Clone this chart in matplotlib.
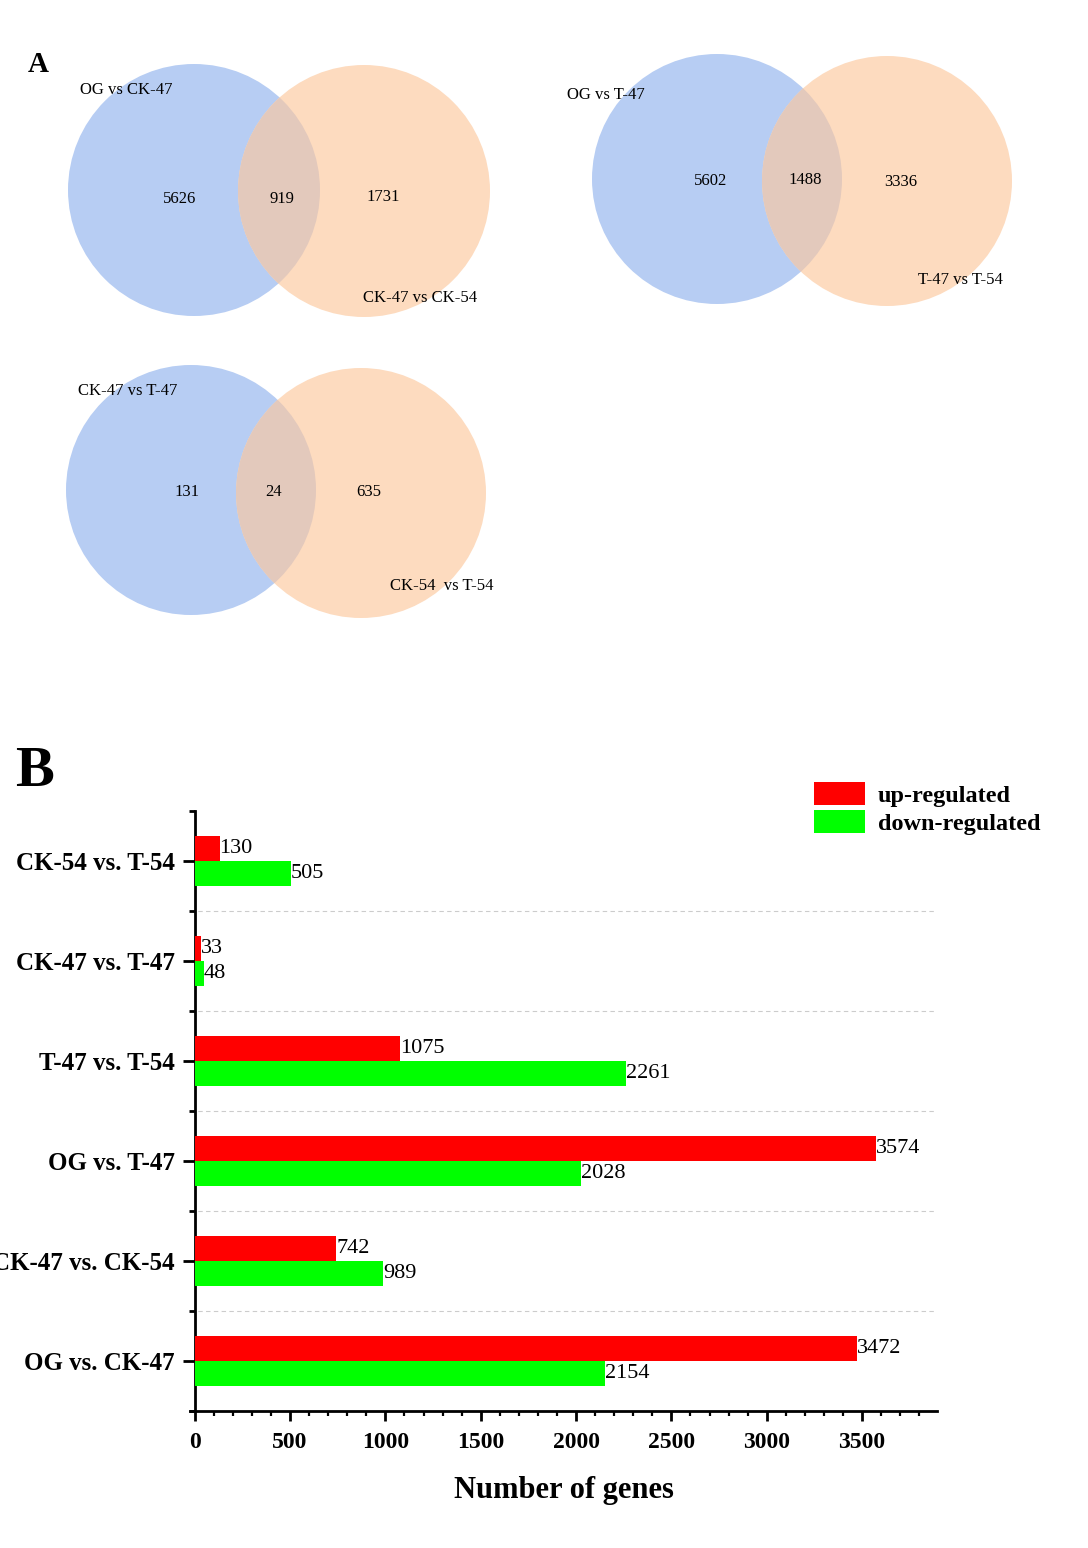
import matplotlib
matplotlib.use("Agg")
import matplotlib.pyplot as plt
from matplotlib.patches import Circle, Patch
import numpy as np

plt.rcParams['font.family'] = ['Liberation Serif', 'DejaVu Serif']

# ---------------- data ----------------
venn_left_names = ["OG vs CK-47", "OG vs T-47", "CK-47 vs T-47"]
venn_right_names = ["CK-47 vs CK-54", "T-47 vs T-54", "CK-54  vs T-54"]
venn_left_only = [5626, 5602, 131]
venn_both = [919, 1488, 24]
venn_right_only = [1731, 3336, 635]

categories = ["OG vs. CK-47", "CK-47 vs. CK-54", "OG vs. T-47",
              "T-47 vs. T-54", "CK-47 vs. T-47", "CK-54 vs. T-54"]
up_regulated = [3472, 742, 3574, 1075, 33, 130]
down_regulated = [2154, 989, 2028, 2261, 48, 505]
x_ticks = [0, 500, 1000, 1500, 2000, 2500, 3000, 3500]

# ---------------- figure ----------------
W, H = 1088, 1548
fig = plt.figure(figsize=(W / 100, H / 100), dpi=100)

# Venn panel in pixel coordinates
axv = fig.add_axes([0, 0, 1, 1])
axv.set_xlim(0, W)
axv.set_ylim(H, 0)
axv.axis('off')

BLUE = '#b7cdf3'
ORANGE = '#fddbbf'
OVER = '#e3c9bc'

# layout per diagram: left centre, right centre, radius, label positions, number positions
layouts = [
    dict(cl=(194, 190), cr=(364, 191), r=126, lpos=(80, 90), rpos=(363, 298),
         npos=[(180, 199), (282, 199), (383, 197)]),
    dict(cl=(717, 179), cr=(887, 181), r=125, lpos=(567, 95), rpos=(918, 280),
         npos=[(711, 181), (805, 180), (901, 182)]),
    dict(cl=(191, 490), cr=(361, 493), r=125, lpos=(78, 391), rpos=(390, 586),
         npos=[(187, 492), (274, 492), (369, 492)]),
]

for i, L in enumerate(layouts):
    c1 = Circle(L['cl'], L['r'], facecolor=BLUE, edgecolor='none', zorder=1)
    c2 = Circle(L['cr'], L['r'], facecolor=ORANGE, edgecolor='none', zorder=2)
    axv.add_patch(c1)
    axv.add_patch(c2)
    c3 = Circle(L['cr'], L['r'], facecolor=OVER, edgecolor='none', zorder=3)
    axv.add_patch(c3)
    c3.set_clip_path(Circle(L['cl'], L['r'], transform=axv.transData))
    vals = [venn_left_only[i], venn_both[i], venn_right_only[i]]
    for (px, py), v in zip(L['npos'], vals):
        axv.text(px, py, str(v), ha='center', va='center', fontsize=12, zorder=5)
    axv.text(L['lpos'][0], L['lpos'][1], venn_left_names[i], ha='left', va='center', fontsize=12, zorder=5)
    axv.text(L['rpos'][0], L['rpos'][1], venn_right_names[i], ha='left', va='center', fontsize=12, zorder=5)

axv.text(28, 64, "A", fontsize=21, fontweight='bold', ha='left', va='center')
axv.text(15, 772, "B", fontsize=42, fontweight='bold', ha='left', va='center')

# ---------------- bar panel ----------------
left = 190 / W
right = 937 / W
bottom = 1 - 1411 / H
top = 1 - 811 / H
ax = fig.add_axes([left, bottom, right - left, top - bottom])
ax.patch.set_alpha(0)

for s in ['top', 'right']:
    ax.spines[s].set_visible(False)
ax.spines['left'].set_linewidth(2)
ax.spines['bottom'].set_linewidth(2)
ax.spines['left'].set_position(('data', 0))

y = np.arange(len(categories))
bh = 0.25
ax.barh(y + bh / 2, up_regulated, height=bh, color='#ff0000', label='up-regulated', zorder=3)
ax.barh(y - bh / 2, down_regulated, height=bh, color='#00ff00', label='down-regulated', zorder=3)

for yi, v in zip(y, up_regulated):
    ax.text(v, yi + bh / 2, str(v), ha='left', va='center', fontsize=16, zorder=4)
for yi, v in zip(y, down_regulated):
    ax.text(v, yi - bh / 2, str(v), ha='left', va='center', fontsize=16, zorder=4)

ax.set_xlim(-25, 3893)
ax.set_ylim(-0.5, len(categories) - 0.5)
ax.set_xticks(x_ticks)
ax.set_xticks(np.arange(0, 3801, 100), minor=True)
ax.set_xticklabels([str(t) for t in x_ticks], fontsize=17, fontweight='bold')
ax.set_yticks(y)
ax.set_yticks(np.arange(-0.5, len(categories), 1.0), minor=True)
ax.set_yticklabels(categories, fontsize=18, fontweight='bold')

for b in np.arange(0.5, len(categories) - 1, 1.0):
    ax.axhline(b, color='#cccccc', lw=0.8, ls=(0, (4, 3)), zorder=1)

ax.tick_params(axis='x', which='major', length=7, width=2, direction='out', pad=8)
ax.tick_params(axis='x', which='minor', length=3.6, width=1.6, direction='out')
ax.tick_params(axis='y', which='major', length=8.6, width=2, direction='out', pad=5.8)
ax.tick_params(axis='y', which='minor', length=4.3, width=2, direction='out')

ax.set_xlabel("Number of genes", fontsize=22, fontweight='bold', labelpad=17)

handles = [Patch(facecolor='#ff0000'), Patch(facecolor='#00ff00')]
fig.legend(handles, ['up-regulated', 'down-regulated'],
           loc='upper left', bbox_to_anchor=(814 / W, 1 - 782 / H),
           frameon=False, prop={'size': 17.5, 'weight': 'bold'},
           handlelength=2.1, handleheight=1.05, handletextpad=0.53,
           labelspacing=0.15, borderaxespad=0, borderpad=0)

fig.savefig("out.png", dpi=100)
